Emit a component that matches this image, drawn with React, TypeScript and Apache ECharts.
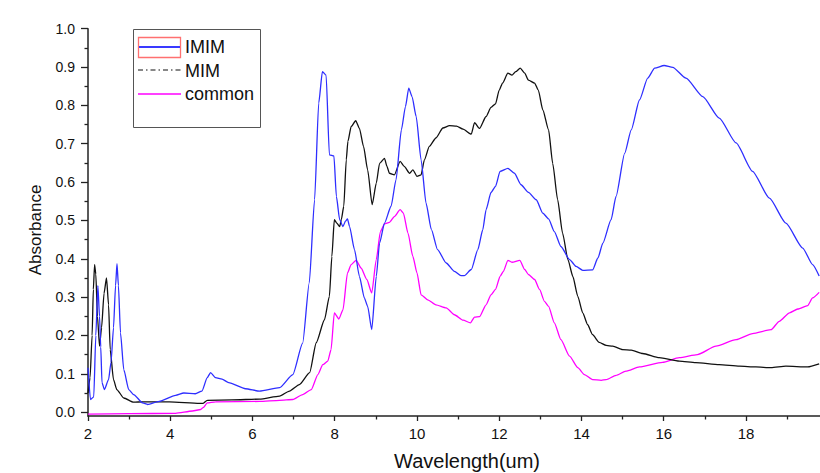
import React, { useEffect, useRef } from "react";
import * as echarts from "echarts";

const xMajorTicks = [2, 4, 6, 8, 10, 12, 14, 16, 18];
const xMinorTicks = [3, 5, 7, 9, 11, 13, 15, 17, 19];
const yMajorTicks = [0, 0.1, 0.2, 0.3, 0.4, 0.5, 0.6, 0.7, 0.8, 0.9, 1.0];
const yMinorTicks = [0.05, 0.15, 0.25, 0.35, 0.45, 0.55, 0.65, 0.75, 0.85, 0.95];

const seriesNames = ["IMIM", "MIM", "common"];
const xAxisTitle = "Wavelength(um)";
const yAxisTitle = "Absorbance";

const imimData = [
  [2.0, 0.116], [2.06, 0.033], [2.14, 0.04], [2.19, 0.2], [2.24, 0.33], [2.28, 0.25], [2.31, 0.17],
  [2.34, 0.077], [2.4, 0.059], [2.5, 0.085], [2.56, 0.13], [2.62, 0.22], [2.67, 0.33], [2.705, 0.387],
  [2.74, 0.33], [2.79, 0.207], [2.87, 0.111], [2.99, 0.059], [3.11, 0.046], [3.33, 0.024], [3.45, 0.02],
  [3.73, 0.028], [4.13, 0.044], [4.33, 0.05], [4.61, 0.048], [4.77, 0.055], [4.9, 0.09], [4.98, 0.103],
  [5.1, 0.09], [5.26, 0.086], [5.42, 0.077], [5.83, 0.061], [6.17, 0.055], [6.66, 0.064], [6.98, 0.098],
  [7.22, 0.18], [7.38, 0.337], [7.51, 0.554], [7.61, 0.806], [7.7, 0.888], [7.79, 0.879], [7.87, 0.671],
  [7.98, 0.668], [8.04, 0.5625], [8.12, 0.502], [8.2, 0.484], [8.26, 0.498], [8.31, 0.504], [8.36, 0.484],
  [8.48, 0.424], [8.6, 0.354], [8.72, 0.298], [8.8, 0.276], [8.9, 0.215], [9.01, 0.354], [9.09, 0.441],
  [9.21, 0.493], [9.37, 0.537], [9.49, 0.606], [9.62, 0.736], [9.72, 0.797], [9.8, 0.845], [9.88, 0.823],
  [9.98, 0.771], [10.1, 0.658], [10.22, 0.545], [10.35, 0.476], [10.5, 0.424], [10.71, 0.389], [10.91, 0.367],
  [11.07, 0.356], [11.15, 0.356], [11.32, 0.372], [11.48, 0.424], [11.6, 0.476], [11.68, 0.528], [11.8, 0.573],
  [11.91, 0.589], [12.02, 0.628], [12.21, 0.636], [12.37, 0.623], [12.53, 0.593], [12.71, 0.573], [12.9, 0.554],
  [13.06, 0.519], [13.2, 0.504], [13.34, 0.471], [13.5, 0.432], [13.71, 0.398], [13.87, 0.38], [14.03, 0.37],
  [14.27, 0.371], [14.4, 0.402], [14.52, 0.441], [14.72, 0.502], [14.84, 0.5625], [15.05, 0.675], [15.21, 0.736],
  [15.41, 0.814], [15.61, 0.871], [15.78, 0.897], [16.01, 0.904], [16.22, 0.899], [16.54, 0.871], [16.95, 0.823],
  [17.35, 0.767], [17.76, 0.702], [18.16, 0.628], [18.57, 0.558], [18.97, 0.493], [19.38, 0.428], [19.62, 0.385],
  [19.78, 0.355],
];

const mimData = [
  [2.0, 0.05], [2.05, 0.09], [2.1, 0.2], [2.13, 0.32], [2.16, 0.385], [2.19, 0.36], [2.23, 0.25], [2.28, 0.172],
  [2.33, 0.22], [2.39, 0.31], [2.45, 0.35], [2.5, 0.28], [2.54, 0.163], [2.62, 0.085], [2.7, 0.059], [2.87, 0.037],
  [3.11, 0.026], [3.33, 0.027], [3.98, 0.027], [4.71, 0.023], [4.8, 0.023], [4.9, 0.031], [5.5, 0.032],
  [6.17, 0.034], [6.66, 0.042], [6.9, 0.055], [7.14, 0.072], [7.39, 0.103], [7.55, 0.181], [7.75, 0.241],
  [7.87, 0.302], [7.93, 0.406], [7.99, 0.502], [8.05, 0.493], [8.12, 0.484], [8.16, 0.502], [8.22, 0.537],
  [8.28, 0.658], [8.32, 0.706], [8.4, 0.745], [8.51, 0.76], [8.6, 0.74], [8.7, 0.693], [8.8, 0.632], [8.91, 0.541],
  [9.01, 0.597], [9.09, 0.649], [9.21, 0.662], [9.27, 0.641], [9.33, 0.623], [9.45, 0.619], [9.59, 0.654],
  [9.69, 0.641], [9.82, 0.623], [9.9, 0.632], [10.0, 0.615], [10.1, 0.619], [10.18, 0.658], [10.3, 0.693],
  [10.46, 0.715], [10.63, 0.741], [10.79, 0.747], [10.96, 0.746], [11.12, 0.738], [11.32, 0.725], [11.4, 0.755],
  [11.52, 0.74], [11.68, 0.771], [11.8, 0.795], [11.91, 0.804], [12.0, 0.84], [12.08, 0.858], [12.21, 0.884],
  [12.31, 0.879], [12.4, 0.888], [12.51, 0.897], [12.62, 0.884], [12.71, 0.866], [12.86, 0.858], [12.95, 0.84],
  [13.06, 0.788], [13.2, 0.736], [13.3, 0.649], [13.42, 0.554], [13.54, 0.467], [13.67, 0.398], [13.79, 0.354],
  [13.91, 0.302], [14.03, 0.259], [14.15, 0.228], [14.27, 0.202], [14.43, 0.182], [14.6, 0.174], [14.76, 0.172],
  [15.0, 0.163], [15.21, 0.162], [15.49, 0.153], [15.89, 0.142], [16.38, 0.133], [16.78, 0.129], [17.35, 0.124],
  [17.84, 0.12], [18.24, 0.118], [18.61, 0.116], [18.97, 0.12], [19.5, 0.118], [19.78, 0.126],
];

const commonData = [
  [2.0, -0.005], [3.0, -0.004], [4.13, -0.003], [4.54, 0.003], [4.74, 0.007], [4.8, 0.012], [4.9, 0.024],
  [5.1, 0.027], [6.17, 0.028], [6.66, 0.031], [6.98, 0.033], [7.22, 0.046], [7.43, 0.059], [7.59, 0.098],
  [7.71, 0.124], [7.83, 0.133], [7.91, 0.163], [7.99, 0.259], [8.1, 0.243], [8.2, 0.267], [8.31, 0.363],
  [8.4, 0.385], [8.52, 0.396], [8.64, 0.376], [8.78, 0.346], [8.9, 0.311], [9.01, 0.398], [9.11, 0.471],
  [9.21, 0.491], [9.33, 0.495], [9.45, 0.51], [9.59, 0.528], [9.67, 0.519], [9.78, 0.467], [9.9, 0.406],
  [10.0, 0.363], [10.1, 0.306], [10.26, 0.293], [10.46, 0.28], [10.71, 0.272], [10.91, 0.254], [11.12, 0.24],
  [11.3, 0.233], [11.4, 0.248], [11.52, 0.249], [11.68, 0.28], [11.8, 0.306], [11.91, 0.32], [12.02, 0.354],
  [12.1, 0.367], [12.21, 0.396], [12.31, 0.391], [12.5, 0.396], [12.62, 0.372], [12.71, 0.359], [12.86, 0.346],
  [12.98, 0.32], [13.1, 0.289], [13.2, 0.276], [13.34, 0.233], [13.5, 0.189], [13.71, 0.146], [13.91, 0.116],
  [14.07, 0.098], [14.27, 0.085], [14.48, 0.083], [14.6, 0.085], [14.84, 0.096], [15.08, 0.107], [15.41, 0.118],
  [15.97, 0.13], [16.38, 0.142], [16.82, 0.15], [17.27, 0.172], [17.76, 0.189], [18.16, 0.205], [18.61, 0.215],
  [18.81, 0.237], [19.06, 0.259], [19.26, 0.269], [19.5, 0.278], [19.62, 0.298], [19.78, 0.3125],
];

const FONT = "'Liberation Sans', Arial, sans-serif";
const AXIS_COLOR = "#222";

export default function App() {
  const ref = useRef<HTMLDivElement>(null);
  useEffect(() => {
    if (!ref.current) return;
    const chart = echarts.init(ref.current, undefined, { renderer: "svg" });
    const xBase = {
      type: "value",
      min: 2,
      max: 19.8,
      splitLine: { show: false },
    };
    const yBase = {
      type: "value",
      min: -0.01,
      max: 1.0,
      splitLine: { show: false },
    };
    const legendText = (text: string, y: number) => ({
      type: "text",
      x: 185,
      y,
      style: { text, fontFamily: FONT, fontSize: 18, fill: "#111", verticalAlign: "middle", align: "left" },
      z: 11,
    });
    chart.setOption({
      animation: false,
      backgroundColor: "#fff",
      grid: { left: 88, top: 28.7, right: 0, bottom: 57, containLabel: false },
      xAxis: [
        {
          ...xBase,
          position: "bottom",
          axisLine: { show: true, onZero: false, lineStyle: { color: AXIS_COLOR, width: 1.5 } },
          axisTick: { show: true, inside: false, length: 5, customValues: xMajorTicks, lineStyle: { color: AXIS_COLOR, width: 1.3 } },
          axisLabel: { show: true, customValues: xMajorTicks, margin: 10, fontFamily: FONT, fontSize: 15, color: "#111" },
        },
        {
          ...xBase,
          position: "bottom",
          axisLine: { show: false, onZero: false },
          axisTick: { show: true, inside: false, length: 3.5, customValues: xMinorTicks, lineStyle: { color: AXIS_COLOR, width: 1.3 } },
          axisLabel: { show: false },
        },
      ],
      yAxis: [
        {
          ...yBase,
          position: "left",
          axisLine: { show: true, onZero: false, lineStyle: { color: AXIS_COLOR, width: 1.5 } },
          axisTick: { show: true, inside: false, length: 7, customValues: yMajorTicks, lineStyle: { color: AXIS_COLOR, width: 1.3 } },
          axisLabel: {
            show: true,
            customValues: yMajorTicks,
            margin: 13,
            fontFamily: FONT,
            fontSize: 14,
            color: "#111",
            formatter: (v: number) => v.toFixed(1),
          },
        },
        {
          ...yBase,
          position: "left",
          axisLine: { show: false, onZero: false },
          axisTick: { show: true, inside: false, length: 3.5, customValues: yMinorTicks, lineStyle: { color: AXIS_COLOR, width: 1.3 } },
          axisLabel: { show: false },
        },
      ],
      series: [
        {
          name: seriesNames[0],
          type: "line",
          data: imimData,
          showSymbol: false,
          smooth: 0.2,
          smoothMonotone: "x",
          lineStyle: { color: "#2e2eff", width: 1.3 },
          itemStyle: { color: "#2e2eff" },
          z: 3,
        },
        {
          name: seriesNames[1],
          type: "line",
          data: mimData,
          showSymbol: false,
          smooth: 0.2,
          smoothMonotone: "x",
          lineStyle: { color: "#111", width: 1.3 },
          itemStyle: { color: "#111" },
          z: 2,
        },
        {
          name: seriesNames[2],
          type: "line",
          data: commonData,
          showSymbol: false,
          smooth: 0.2,
          smoothMonotone: "x",
          lineStyle: { color: "#ff00ff", width: 1.3 },
          itemStyle: { color: "#ff00ff" },
          z: 1,
        },
      ],
      graphic: [
        {
          type: "text",
          x: 467,
          y: 461,
          style: { text: xAxisTitle, fontFamily: FONT, fontSize: 20, fill: "#111", verticalAlign: "middle", align: "center" },
        },
        {
          type: "text",
          x: 35,
          y: 230,
          rotation: Math.PI / 2,
          style: { text: yAxisTitle, fontFamily: FONT, fontSize: 17, fill: "#111", verticalAlign: "middle", align: "center" },
        },
        {
          type: "rect",
          shape: { x: 133.5, y: 29.5, width: 127, height: 98 },
          style: { fill: "#fff", stroke: "#555", lineWidth: 1 },
          z: 10,
        },
        {
          type: "rect",
          shape: { x: 138.5, y: 37.5, width: 42, height: 20 },
          style: { fill: "none", stroke: "#ff7070", lineWidth: 1.3 },
          z: 11,
        },
        {
          type: "line",
          shape: { x1: 139, y1: 47, x2: 180, y2: 47 },
          style: { stroke: "#3a3aff", lineWidth: 2 },
          z: 11,
        },
        {
          type: "line",
          shape: { x1: 138, y1: 70, x2: 181, y2: 70 },
          style: { stroke: "#111", lineWidth: 1.2, lineDash: [5, 3, 1.5, 3] },
          z: 11,
        },
        {
          type: "line",
          shape: { x1: 138, y1: 94, x2: 181, y2: 94 },
          style: { stroke: "#ff00ff", lineWidth: 1.3 },
          z: 11,
        },
        legendText(seriesNames[0], 47),
        legendText(seriesNames[1], 70.5),
        legendText(seriesNames[2], 94),
      ],
    });
    return () => chart.dispose();
  }, []);
  return (
    <div
      ref={ref}
      style={{ position: "fixed", left: 0, top: 0, width: 820, height: 473, background: "#fff" }}
    />
  );
}
